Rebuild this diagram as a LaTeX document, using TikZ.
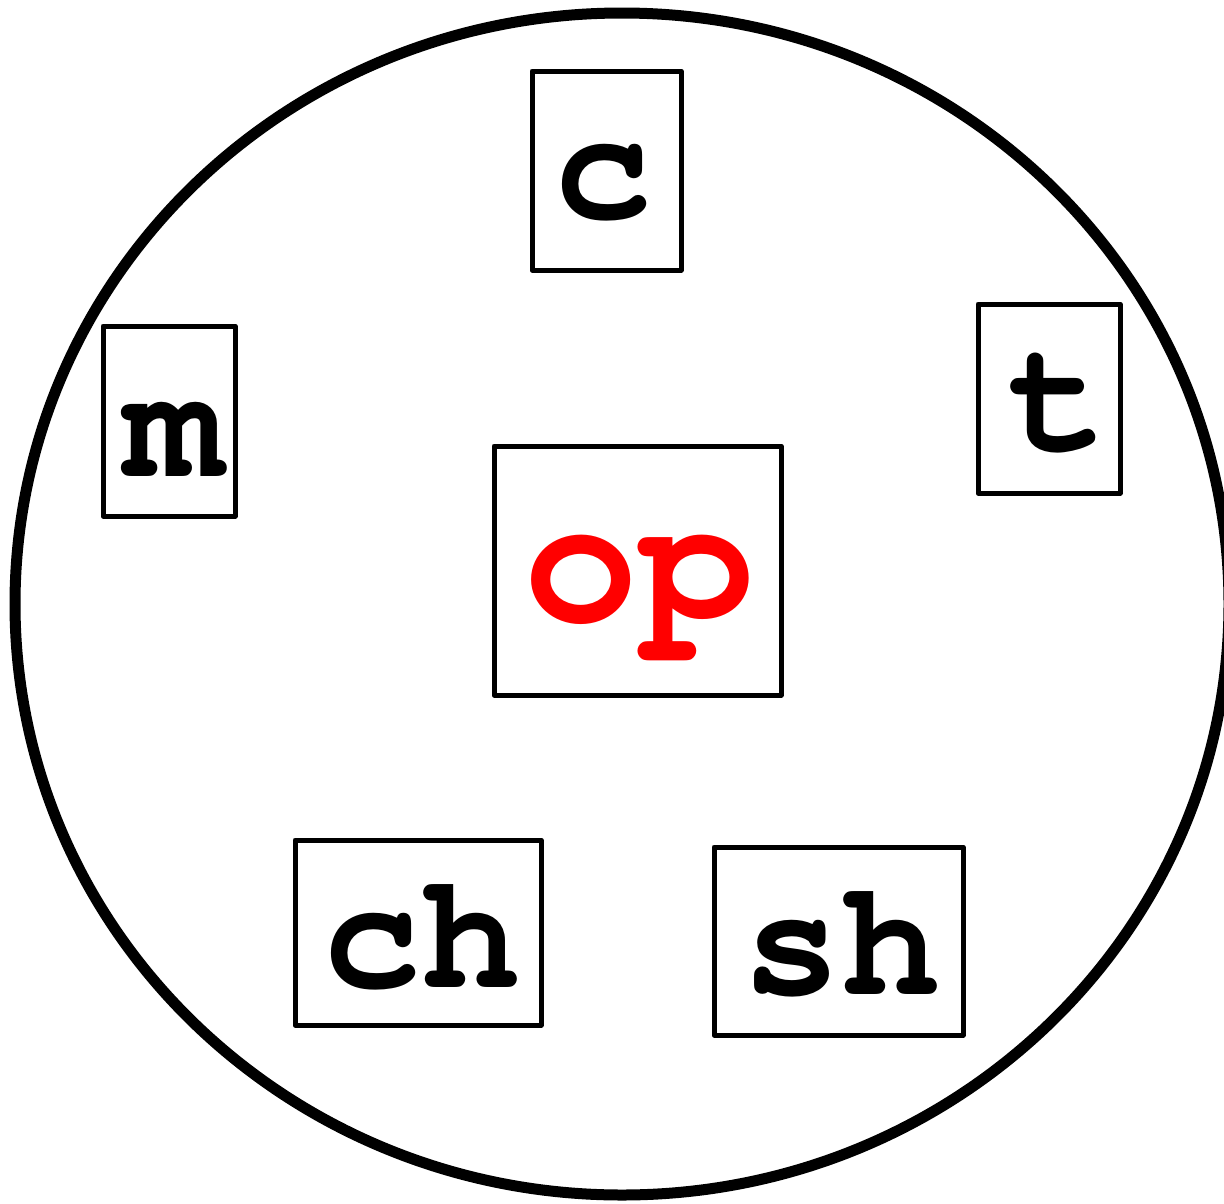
\documentclass[tikz,border=0pt]{standalone}
\usepackage[T1]{fontenc}
\newcommand\courbf{\fontencoding{T1}\fontfamily{pcr}\fontseries{b}\selectfont}
\begin{document}
\begin{tikzpicture}[x=1pt,y=-1pt,
  boxnode/.style={draw,line width=5pt,line join=round,inner sep=0pt,minimum width=#1},
  lbl/.style={inner sep=0pt,font=\courbf\fontsize{165}{165}\selectfont}]
\useasboundingbox (0,0) rectangle (1224,1203);
\draw[line width=11pt] (622,604) ellipse [x radius=607, y radius=591];
\node[boxnode=149pt,minimum height=199pt] (bc) at (606.5,170.5) {};
\node[boxnode=132pt,minimum height=190pt] (bm) at (169,421) {};
\node[boxnode=142pt,minimum height=189pt] (bt) at (1049,398.5) {};
\node[boxnode=287pt,minimum height=249pt] (bop) at (637.5,570.5) {};
\node[boxnode=246pt,minimum height=185pt] (bch) at (418,932.5) {};
\node[boxnode=249pt,minimum height=188pt] (bsh) at (838.5,941) {};
\node[lbl] (tc) at (603,183) {c};
\node[lbl] (tm) at (174,439) {m};
\node[lbl] (tt) at (1058,406) {t};
\node[lbl,text=red,font=\courbf\fontsize{192}{192}\selectfont] (top) at (639,591) {op};
\node[lbl] (tch) at (421,937) {ch};
\node[lbl] (tsh) at (841,944) {sh};
\end{tikzpicture}
\end{document}
